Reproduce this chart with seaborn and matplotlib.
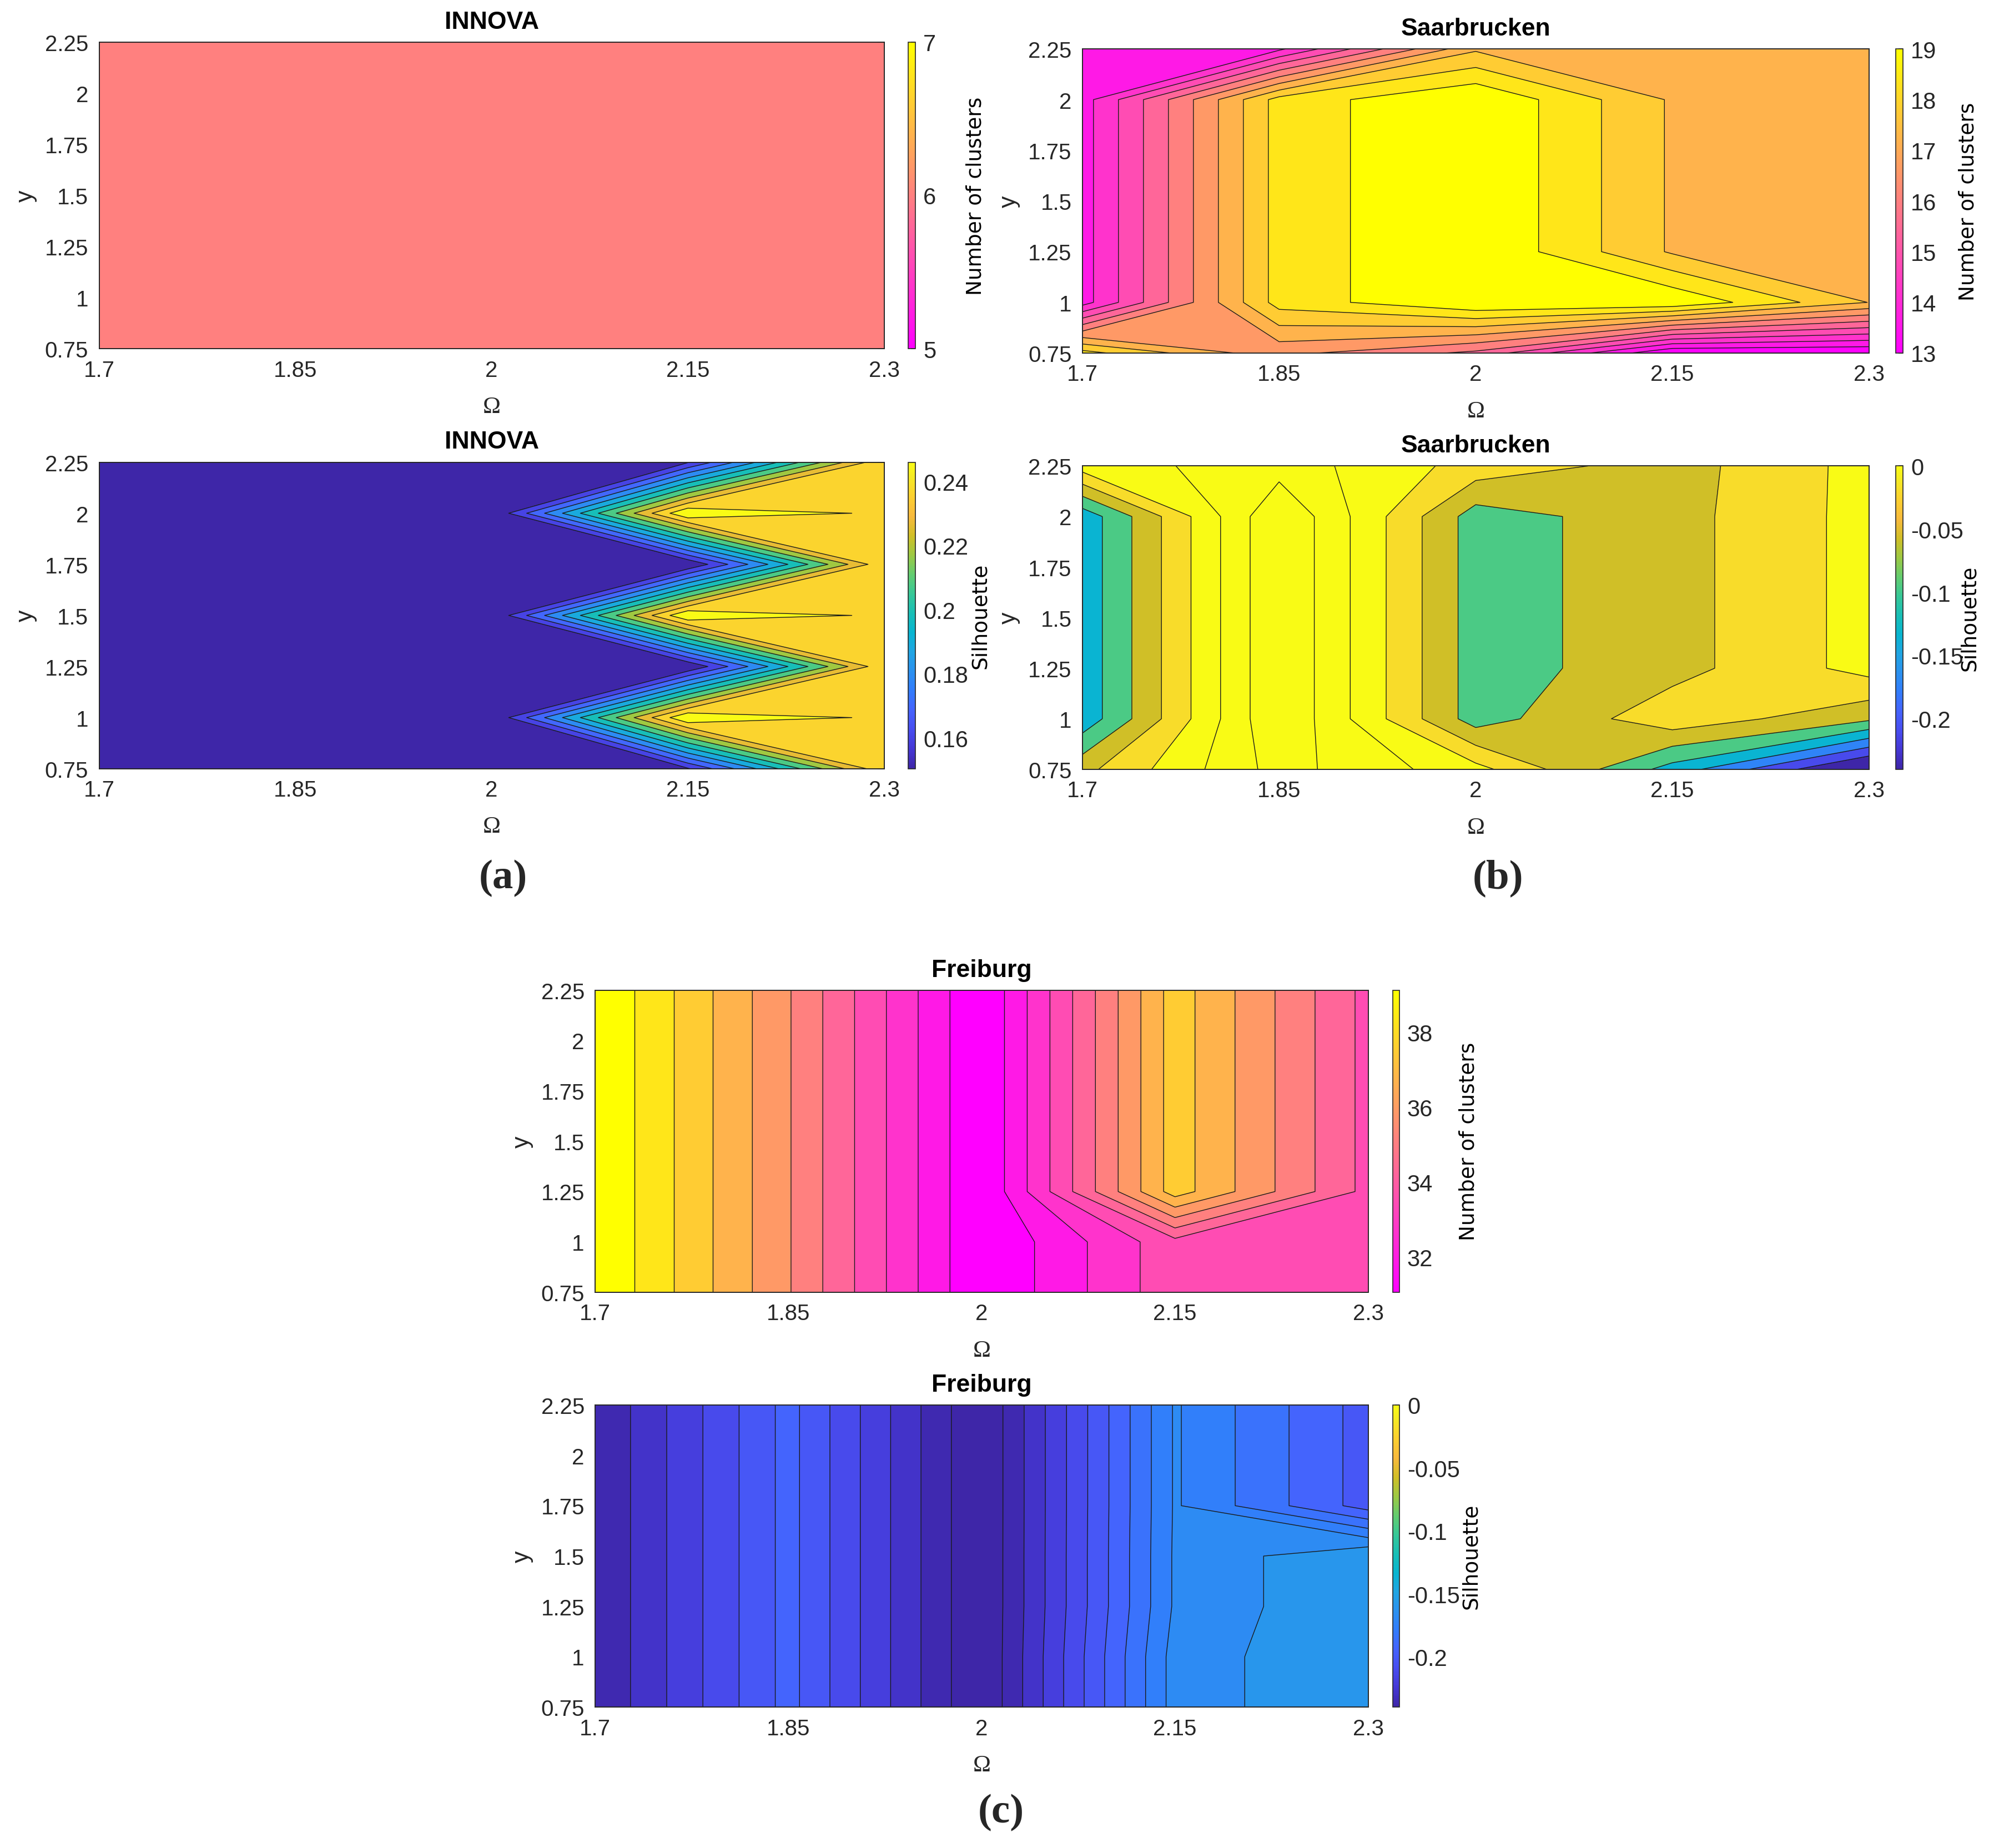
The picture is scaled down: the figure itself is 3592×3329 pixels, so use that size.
import numpy as np
import matplotlib
matplotlib.use('Agg')
import matplotlib.pyplot as plt
import seaborn as sns
from matplotlib.colors import Normalize, LinearSegmentedColormap
from matplotlib.cm import ScalarMappable

# grid of the parameter scan
omega = [1.7, 1.85, 2.0, 2.15, 2.3]
y_vals = [0.75, 1.0, 1.25, 1.5, 1.75, 2.0, 2.25]

x_ticks = [1.7, 1.85, 2.0, 2.15, 2.3]
x_ticklabels = ['1.7', '1.85', '2', '2.15', '2.3']
y_ticks = [0.75, 1.0, 1.25, 1.5, 1.75, 2.0, 2.25]
y_ticklabels = ['0.75', '1', '1.25', '1.5', '1.75', '2', '2.25']

# rows follow y_vals (0.75 -> 2.25), columns follow omega
innova_clusters = [
    [6, 6, 6, 6, 6],
    [6, 6, 6, 6, 6],
    [6, 6, 6, 6, 6],
    [6, 6, 6, 6, 6],
    [6, 6, 6, 6, 6],
    [6, 6, 6, 6, 6],
    [6, 6, 6, 6, 6],
]
innova_sil = [
    [0.1504, 0.1504, 0.1504, 0.1582, 0.2356],
    [0.1504, 0.1504, 0.1508, 0.2460, 0.2356],
    [0.1504, 0.1504, 0.1504, 0.1504, 0.2356],
    [0.1504, 0.1504, 0.1508, 0.2460, 0.2356],
    [0.1504, 0.1504, 0.1504, 0.1504, 0.2356],
    [0.1504, 0.1504, 0.1508, 0.2460, 0.2356],
    [0.1504, 0.1504, 0.1504, 0.1582, 0.2356],
]
saar_clusters = [
    [18.127, 16.436, 15.591, 13.000, 13.000],
    [13.851, 18.144, 19.000, 18.945, 17.350],
    [13.851, 18.144, 19.000, 17.295, 17.091],
    [13.851, 18.144, 19.000, 17.295, 17.091],
    [13.851, 18.144, 19.000, 17.295, 17.091],
    [13.851, 18.144, 19.000, 17.295, 17.091],
    [13.818, 13.982, 17.282, 17.091, 17.091],
]
saar_sil = [
    [-0.0306, 0.1119, 0.0330, -0.1114, -0.2693],
    [-0.1218, 0.1342, -0.0764, 0.0068, -0.0498],
    [-0.1218, 0.1342, -0.0764, -0.0336, 0.0341],
    [-0.1218, 0.1342, -0.0764, -0.0336, 0.0341],
    [-0.1218, 0.1342, -0.0764, -0.0336, 0.0341],
    [-0.1218, 0.1342, -0.0764, -0.0336, 0.0341],
    [0.0388, 0.0792, 0.0041, -0.0363, 0.0341],
]
freiburg_clusters = [
    [39.12, 35.515, 31.06, 33.742, 33.749],
    [39.12, 35.515, 31.06, 33.742, 33.749],
    [39.12, 35.515, 31.06, 37.288, 33.749],
    [39.12, 35.515, 31.06, 37.288, 33.749],
    [39.12, 35.515, 31.06, 37.288, 33.749],
    [39.12, 35.515, 31.06, 37.288, 33.749],
    [39.12, 35.515, 31.06, 37.288, 33.749],
]
freiburg_sil = [
    [-0.2363, -0.1909, -0.2450, -0.1648, -0.1515],
    [-0.2363, -0.1909, -0.2450, -0.1648, -0.1515],
    [-0.2363, -0.1909, -0.2450, -0.1672, -0.1515],
    [-0.2363, -0.1909, -0.2450, -0.1672, -0.1515],
    [-0.2363, -0.1909, -0.2450, -0.1675, -0.1980],
    [-0.2363, -0.1909, -0.2450, -0.1675, -0.1980],
    [-0.2363, -0.1909, -0.2450, -0.1675, -0.1980],
]

sns.set_theme(style='white')
plt.rcParams['font.family'] = ['Liberation Sans', 'DejaVu Sans']

# parula (matlab default) rebuilt from a few of its entries
parula_pts = [0, 4, 8, 12, 16, 20, 24, 28, 32, 36, 40, 44, 48, 52, 56, 60, 63]
parula_hex = ['#3E26A8', '#4537D5', '#484DF0', '#4563FD', '#327CFC', '#2B91EF',
              '#20A5E3', '#08B5D0', '#19BFB6', '#37C897', '#64CD6F', '#9DC943',
              '#D1BF27', '#F8BA3D', '#FCCF30', '#F5E924', '#F9FB15']
parula = LinearSegmentedColormap.from_list(
    'parula', [(p / 63, c) for p, c in zip(parula_pts, parula_hex)])
spring = plt.get_cmap('spring')

W, H = 3592, 3330
fig = plt.figure(figsize=(W / 200, H / 200), dpi=200)
X, Y = np.meshgrid(omega, y_vals)
TXT = '#262626'


def box(x0, y0, x1, y1):
    return [x0 / W, 1 - y1 / H, (x1 - x0) / W, (y1 - y0) / H]


def panel(axbox, cbox, lab_x, Z, cmap, title, clab, cticks, cticklabels,
          clim=None, lev=None):
    ax = fig.add_axes(box(*axbox))
    cax = fig.add_axes(box(*cbox))
    Z = np.asarray(Z, dtype=float)
    zmin, zmax = Z.min(), Z.max()
    if zmax - zmin < 1e-12:
        # constant field
        c0, c1 = zmin - 1, zmax + 1
        ax.contourf(X, Y, Z, levels=[c0, c1], colors=[cmap(0.5)])
    else:
        base, step = lev if lev else (zmin, (zmax - zmin) / 11)
        inner = base + step * np.arange(1, 11)
        eps = 0.01 * (zmax - zmin)
        bounds = np.concatenate([[min(zmin, base) - eps], inner,
                                 [max(zmax, inner[-1]) + eps]])
        cols = []
        for k in range(11):
            if clim is None:
                t = k / 10
            else:
                lv = max(base + k * step, zmin)
                t = np.clip((lv - clim[0]) / (clim[1] - clim[0]), 0, 1)
            cols.append(cmap(t))
        ax.contourf(X, Y, Z, levels=bounds, colors=cols)
        ax.contour(X, Y, Z, levels=inner, colors='k', linewidths=0.5,
                   linestyles='solid')
        c0, c1 = clim if clim else (zmin, zmax)

    ax.set_xlim(1.7, 2.3)
    ax.set_ylim(0.75, 2.25)
    ax.set_xticks(x_ticks)
    ax.set_xticklabels(x_ticklabels)
    ax.set_yticks(y_ticks)
    ax.set_yticklabels(y_ticklabels)
    ax.tick_params(direction='in', length=4.5, width=0.6, top=True, right=True,
                   labelsize=14.5, pad=7, color=TXT, labelcolor=TXT)
    for s in ax.spines.values():
        s.set_linewidth(0.7)
        s.set_color(TXT)
    ax.set_title(title, fontsize=16, fontweight='bold', pad=9, color='black')
    ax.set_xlabel('Ω', fontsize=15.5, family='Liberation Serif', color=TXT,
                  labelpad=10)
    ax.set_ylabel('y', fontsize=15.5, color=TXT, labelpad=5)

    cb = fig.colorbar(ScalarMappable(Normalize(c0, c1), cmap), cax=cax)
    cb.set_ticks(cticks)
    cb.set_ticklabels(cticklabels)
    cb.ax.tick_params(direction='in', length=3, width=0.6, labelsize=15,
                      pad=5, color=TXT, labelcolor=TXT)
    cb.outline.set_linewidth(0.6)
    cb.outline.set_edgecolor(TXT)
    yc = (axbox[1] + axbox[3]) / 2
    fig.text(lab_x / W, 1 - yc / H, clab, rotation=90, ha='center', va='center',
             fontsize=13.5, family='DejaVu Sans', color='black')


nc = 'Number of clusters'
si = 'Silhouette'
sil_ticks = [-0.2, -0.15, -0.1, -0.05, 0]
sil_labels = ['-0.2', '-0.15', '-0.1', '-0.05', '0']

panel((178.6, 76.6, 1592.6, 629.2), (1636, 76.6, 1649, 629.2), 1758,
      innova_clusters, spring, 'INNOVA', nc, [5, 6, 7], ['5', '6', '7'])
panel((178.6, 833.5, 1592.6, 1385.7), (1636, 833.5, 1649, 1385.7), 1766,
      innova_sil, parula, 'INNOVA', si, [0.16, 0.18, 0.2, 0.22, 0.24],
      ['0.16', '0.18', '0.2', '0.22', '0.24'])
panel((1950, 89.2, 3366.7, 637), (3415, 89.2, 3428, 637), 3546,
      saar_clusters, spring, 'Saarbrucken', nc, [13, 14, 15, 16, 17, 18, 19],
      ['13', '14', '15', '16', '17', '18', '19'])
panel((1950, 840.4, 3366.7, 1386.9), (3415, 840.4, 3428, 1386.9), 3548,
      saar_sil, parula, 'Saarbrucken', si, sil_ticks, sil_labels,
      clim=(-0.24, 0.0), lev=(-0.25, 0.0385))
panel((1072.2, 1784.6, 2464.8, 2328.9), (2509, 1784.6, 2521, 2328.9), 2646,
      freiburg_clusters, spring, 'Freiburg', nc, [32, 34, 36, 38],
      ['32', '34', '36', '38'])
panel((1072.2, 2532, 2464.8, 3076.1), (2509, 2532, 2521, 3076.1), 2650,
      freiburg_sil, parula, 'Freiburg', si, sil_ticks, sil_labels,
      clim=(-0.24, 0.0))

for lab, x, y in [('(a)', 906, 1582), ('(b)', 2699, 1582), ('(c)', 1803, 3265)]:
    fig.text(x / W, 1 - y / H, lab, ha='center', va='center', fontsize=27,
             fontweight='bold', family='Liberation Serif')

fig.savefig('out.png', dpi=200)
